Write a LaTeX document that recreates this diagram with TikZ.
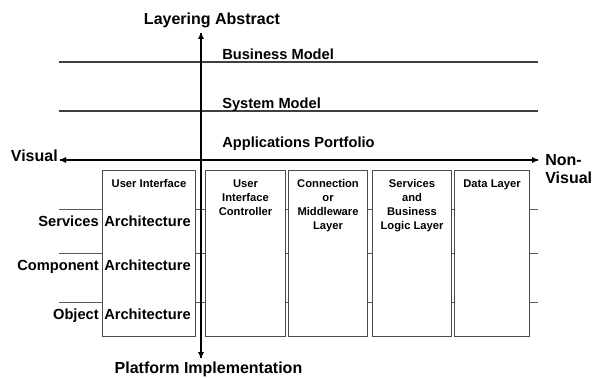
\documentclass[tikz,border=0pt]{standalone}
\usepackage{fontspec}
\setmainfont{Liberation Sans}
\usetikzlibrary{arrows.meta}
\begin{document}
\begin{tikzpicture}[x=0.75pt,y=-0.75pt,
  axis/.style={line width=1.1pt,-{Triangle[length=4.5pt,width=4pt]}},
  level/.style={draw=black!75,line width=0.8pt},
  tier/.style={draw=black!65,line width=0.7pt},
  colbox/.style={draw=black!70,line width=0.8pt,fill=white,inner sep=0pt},
  coltext/.style={font=\bfseries\fontsize{8.4}{10.5}\selectfont,align=center,anchor=north,inner sep=0pt},
  big/.style={font=\bfseries\fontsize{12}{14}\selectfont,inner sep=0pt},
  mid/.style={font=\bfseries\fontsize{11}{13}\selectfont,inner sep=0pt}]
\useasboundingbox (0,0) rectangle (592,378);

% anchor points of the two axes
\coordinate (top) at (201,33);
\coordinate (bot) at (201,358);
\coordinate (lft) at (60,160);
\coordinate (rgt) at (538,160);

% abstraction levels
\coordinate (bm0) at (59,62);  \coordinate (bm1) at (538,62);
\coordinate (sm0) at (59,111); \coordinate (sm1) at (538,111);
\draw[level] (bm0) -- (bm1);
\draw[level] (sm0) -- (sm1);
\node[mid,anchor=base west] (bmt) at (222,59.5) {Business Model};
\node[mid,anchor=base west] (smt) at (222,108.5) {System Model};
\node[mid,anchor=base west] (apt) at (222,147.5) {Applications Portfolio};

% architecture tiers
\foreach \n/\y in {s/209,c/253,o/302}{
  \coordinate (t\n0) at (59,\y);
  \coordinate (t\n1) at (538,\y);
  \draw[tier] (t\n0) -- (t\n1);
}

% columns
\foreach \n/\xa/\xb in {b1/102/195,b2/205/285,b3/288/367,b4/372/451,b5/454/529}{
  \node[colbox,minimum width={(\xb-\xa)*0.75pt},minimum height={166*0.75pt},anchor=north west] (\n) at (\xa,170) {};
}
\node[coltext] (l1) at ([yshift=-7pt]b1.north) {User Interface};
\node[coltext] (l2) at ([yshift=-7pt]b2.north) {User\\Interface\\Controller};
\node[coltext] (l3) at ([yshift=-7pt]b3.north) {Connection\\or\\Middleware\\Layer};
\node[coltext] (l4) at ([yshift=-7pt]b4.north) {Services\\and\\Business\\Logic Layer};
\node[coltext] (l5) at ([yshift=-7pt]b5.north) {Data Layer};

% tier labels
\node[mid,anchor=base east] (ts) at (99,226) {Services};
\node[mid,anchor=base east] (tc) at (99,270) {Component};
\node[mid,anchor=base east] (to) at (99,319) {Object};
\node[mid,anchor=base west] (as) at (104,226) {Architecture};
\node[mid,anchor=base west] (ac) at (104,270) {Architecture};
\node[mid,anchor=base west] (ao) at (104,319) {Architecture};

% axes
\draw[axis] (bot) -- (top);
\draw[axis] (top) -- (bot);
\draw[axis] (rgt) -- (lft);
\draw[axis] (lft) -- (rgt);
\node[big,anchor=base] (la) at (212,25) {Layering Abstract};
\node[big,anchor=base] (pi) at (208.5,373) {Platform Implementation};
\node[big,anchor=base east] (vi) at (58,161) {Visual};
\node[big,anchor=base west] (nv1) at (545,165) {Non-};
\node[big,anchor=base west] (nv2) at (545,183) {Visual};
\end{tikzpicture}
\end{document}
